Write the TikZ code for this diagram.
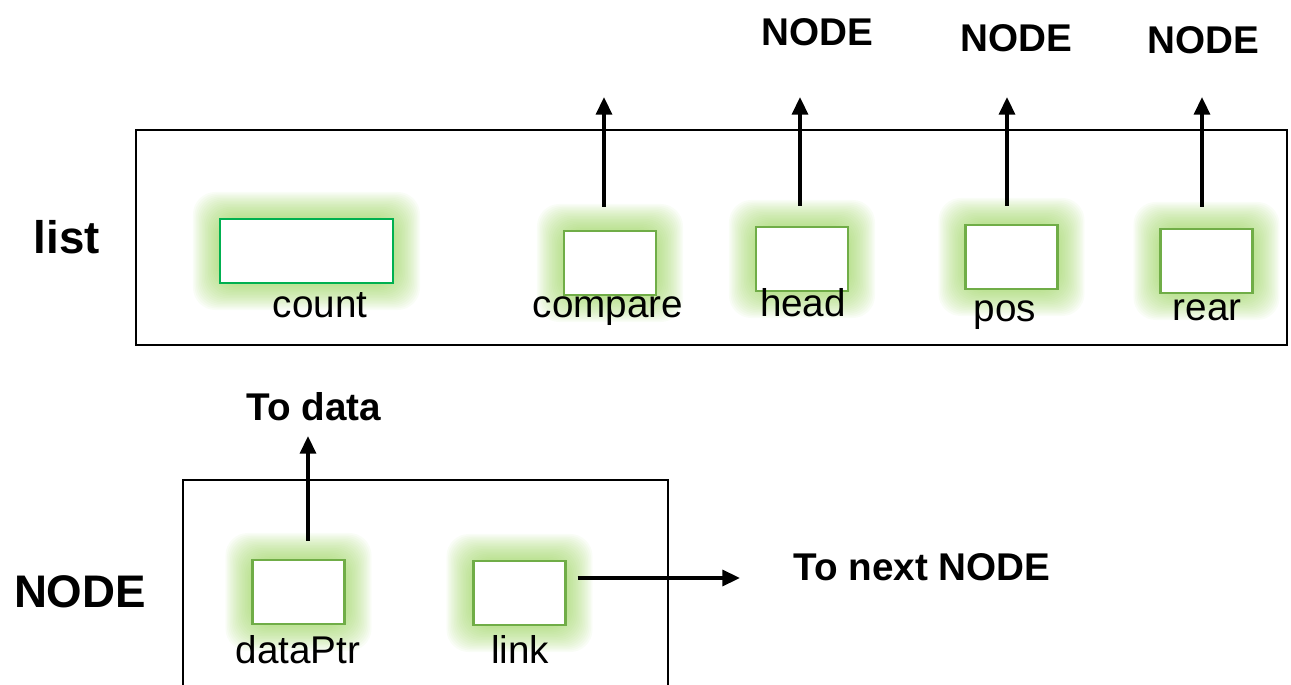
\documentclass[tikz,border=0pt]{standalone}
\usepackage{fontspec}
\setmainfont{Liberation Sans}
\usetikzlibrary{arrows.meta,backgrounds}

\definecolor{boxgreen}{RGB}{112,173,71}
\definecolor{cntgreen}{RGB}{0,176,80}
\definecolor{glowgreen}{RGB}{146,208,80}

\tikzset{
  fieldbox/.style={draw=boxgreen,line width=1.2pt,fill=white,inner sep=0pt,
    minimum width=1.84cm,minimum height=1.28cm},
  fieldlbl/.style={anchor=base,inner sep=0pt,font=\fontsize{22}{24}\selectfont},
  tag/.style={anchor=base,inner sep=0pt,font=\fontsize{22}{24}\selectfont\bfseries},
  biglbl/.style={anchor=base,inner sep=0pt,font=\fontsize{26}{28}\selectfont\bfseries},
  frame/.style={line width=1.1pt},
  ptr/.style={line width=2pt,-{Triangle[length=10pt,width=9pt]}},
  glow/.style={fill=glowgreen,opacity=0.05}
}

\begin{document}
\begin{tikzpicture}[x=0.02cm,y=-0.02cm]
    \useasboundingbox (0,0) rectangle (1291,685);
    %\draw (0,0) grid[step=100] (1291,685);
      % list record
      \draw[frame] (136,130) rectangle (1287,345);
      \node[biglbl] (listlbl) at (67,254) {list};
      \node[fieldbox,draw=cntgreen,minimum width=3.46cm] (cnt) at (306.5,251) {};
      \node[fieldbox] (cmp) at (610,263) {};
      \node[fieldbox] (head) at (802,259) {};
      \node[fieldbox] (pos) at (1011.5,257) {};
      \node[fieldbox] (rear) at (1206.5,261) {};
      \node[fieldlbl] (cntlbl) at (320,318) {count};
      \node[fieldlbl] (cmplbl) at (608,318) {compare};
      \node[fieldlbl] (headlbl) at (803,317) {head};
      \node[fieldlbl] (poslbl) at (1005,322) {pos};
      \node[fieldlbl] (rearlbl) at (1207,321) {rear};
      \node[tag] (headnode) at (817,46) {NODE};
      \node[tag] (posnode) at (1016,52) {NODE};
      \node[tag] (rearnode) at (1203,54) {NODE};
      % NODE record
      \draw[frame] (183,690) -- (183,480) -- (668,480) -- (668,690);
      \node[biglbl] (nodelbl) at (80,607) {NODE};
      \node[fieldbox] (dptr) at (298.5,592) {};
      \node[fieldbox] (link) at (519.5,593) {};
      \node[fieldlbl] (dptrlbl) at (298,663) {dataPtr};
      \node[fieldlbl] (linklbl) at (520,663) {link};
      \node[tag] (datalbl) at (314,421) {To data};
      \node[tag] (nextlbl) at (922,580) {To next NODE};
      % glow behind the fields
      \begin{scope}[on background layer]
        \foreach \n in {cnt,cmp,head,pos,rear,dptr,link}
          \foreach \r in {2,3.5,...,27}
            \fill[glow,rounded corners=0.45cm]
              ([shift={(-\r,\r)}]\n.south west) rectangle ([shift={(\r,-\r)}]\n.north east);
      \end{scope}
      % pointers
      \coordinate (cmptip) at (604,97);
      \coordinate (headtip) at (800,97);
      \coordinate (postip) at (1007,97);
      \coordinate (reartip) at (1202,97);
      \coordinate (datatip) at (308,436);
      \coordinate (nexttip) at (740,578);
      \draw[ptr] (cmp.north -| cmptip) ++(0,-23) -- (cmptip);
      \draw[ptr] (head.north -| headtip) ++(0,-20) -- (headtip);
      \draw[ptr] (pos.north -| postip) ++(0,-18) -- (postip);
      \draw[ptr] (rear.north -| reartip) ++(0,-21) -- (reartip);
      \draw[ptr] (dptr.north -| datatip) ++(0,-18) -- (datatip);
      \draw[ptr] (link.east |- nexttip) ++(11,0) -- (nexttip);
\end{tikzpicture}
\end{document}
